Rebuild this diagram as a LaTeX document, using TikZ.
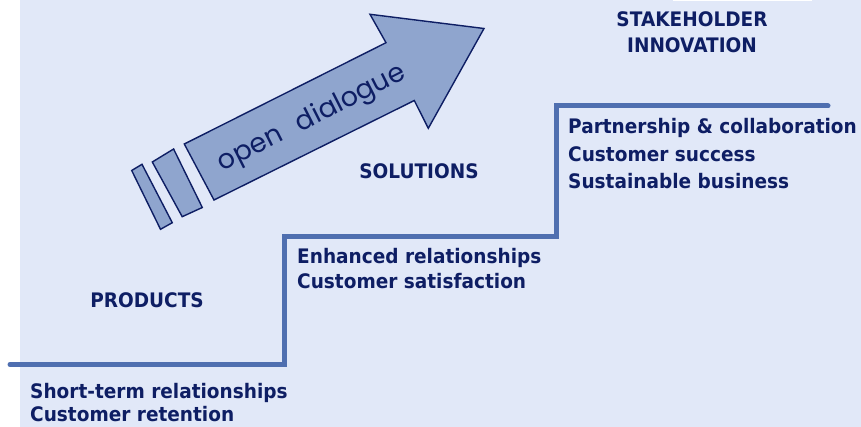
\documentclass[tikz,border=0pt]{standalone}
\usepackage{fontspec}
\newfontfamily\labelfont[FakeStretch=0.925]{DejaVu Sans}
\newfontfamily\arrowfont{Poppins}
\definecolor{bgblue}{RGB}{225,232,248}
\definecolor{stairblue}{RGB}{79,111,176}
\definecolor{navy}{RGB}{14,30,100}
\definecolor{arrowfill}{RGB}{143,165,206}
\tikzset{
  stair/.style={draw=stairblue, line width=5pt, line cap=round, line join=miter},
  arrowpart/.style={draw=navy, fill=arrowfill, line width=1.4pt, line join=miter},
  steptext/.style={anchor=base west, inner sep=0pt, text=navy, font=\labelfont\bfseries\fontsize{20}{24}\selectfont},
  levelname/.style={anchor=base, inner sep=0pt, text=navy, font=\labelfont\bfseries\fontsize{20}{24}\selectfont},
}
\begin{document}
\begin{tikzpicture}[x=1pt,y=-1pt]
  \useasboundingbox (0,0) rectangle (861,427);
  % backdrop
  \fill[bgblue] (20,0) rectangle (861,427);
  \fill[white] (673,0) rectangle (812,1.5);

  % the staircase
  \coordinate (s0) at (10,364.5);
  \coordinate (s1) at (284,364.5);
  \coordinate (s2) at (284,236.5);
  \coordinate (s3) at (556,236.5);
  \coordinate (s4) at (556,106);
  \coordinate (s5) at (828,106);
  \draw[stair] (s0) -- (s1) -- (s2) -- (s3) -- (s4) -- (s5);

  % rising arrow with its two trailing bars
  \draw[arrowpart] (131.7,170.5) -- (142,164.3) -- (172.3,222.7) -- (160.5,229.3) -- cycle;
  \draw[arrowpart] (152.3,162) -- (173.6,149) -- (202.3,207.5) -- (182.2,216.7) -- cycle;
  \draw[arrowpart] (214,200) -- (184.3,144) -- (386,42.7) -- (370,14.3) -- (484,28.5)
    -- (428.3,128.3) -- (414.3,100.5) -- cycle;
  \node[rotate=26.8, text=navy, inner sep=0pt,
        font=\arrowfont\fontsize{27}{31}\selectfont] (dialogue) at (312,119) {open\hspace{0.4em} dialogue};

  % level names
  \node[levelname] (products) at (147,307) {PRODUCTS};
  \node[levelname] (solutions) at (419,179) {SOLUTIONS};
  \node[levelname] (stake) at (692,26.7) {STAKEHOLDER};
  \node[levelname] (innov) at (692,52.7) {INNOVATION};

  % what each level brings
  \node[steptext] (l1a) at (30,398) {Short-term relationships};
  \node[steptext] (l1b) at (30,421.7) {Customer retention};
  \node[steptext] (l2a) at (297,263.3) {Enhanced relationships};
  \node[steptext] (l2b) at (297,288.3) {Customer satisfaction};
  \node[steptext] (l3a) at (568,133.3) {Partnership \& collaboration};
  \node[steptext] (l3b) at (568,161.7) {Customer success};
  \node[steptext] (l3c) at (568,188.3) {Sustainable business};
\end{tikzpicture}
\end{document}
